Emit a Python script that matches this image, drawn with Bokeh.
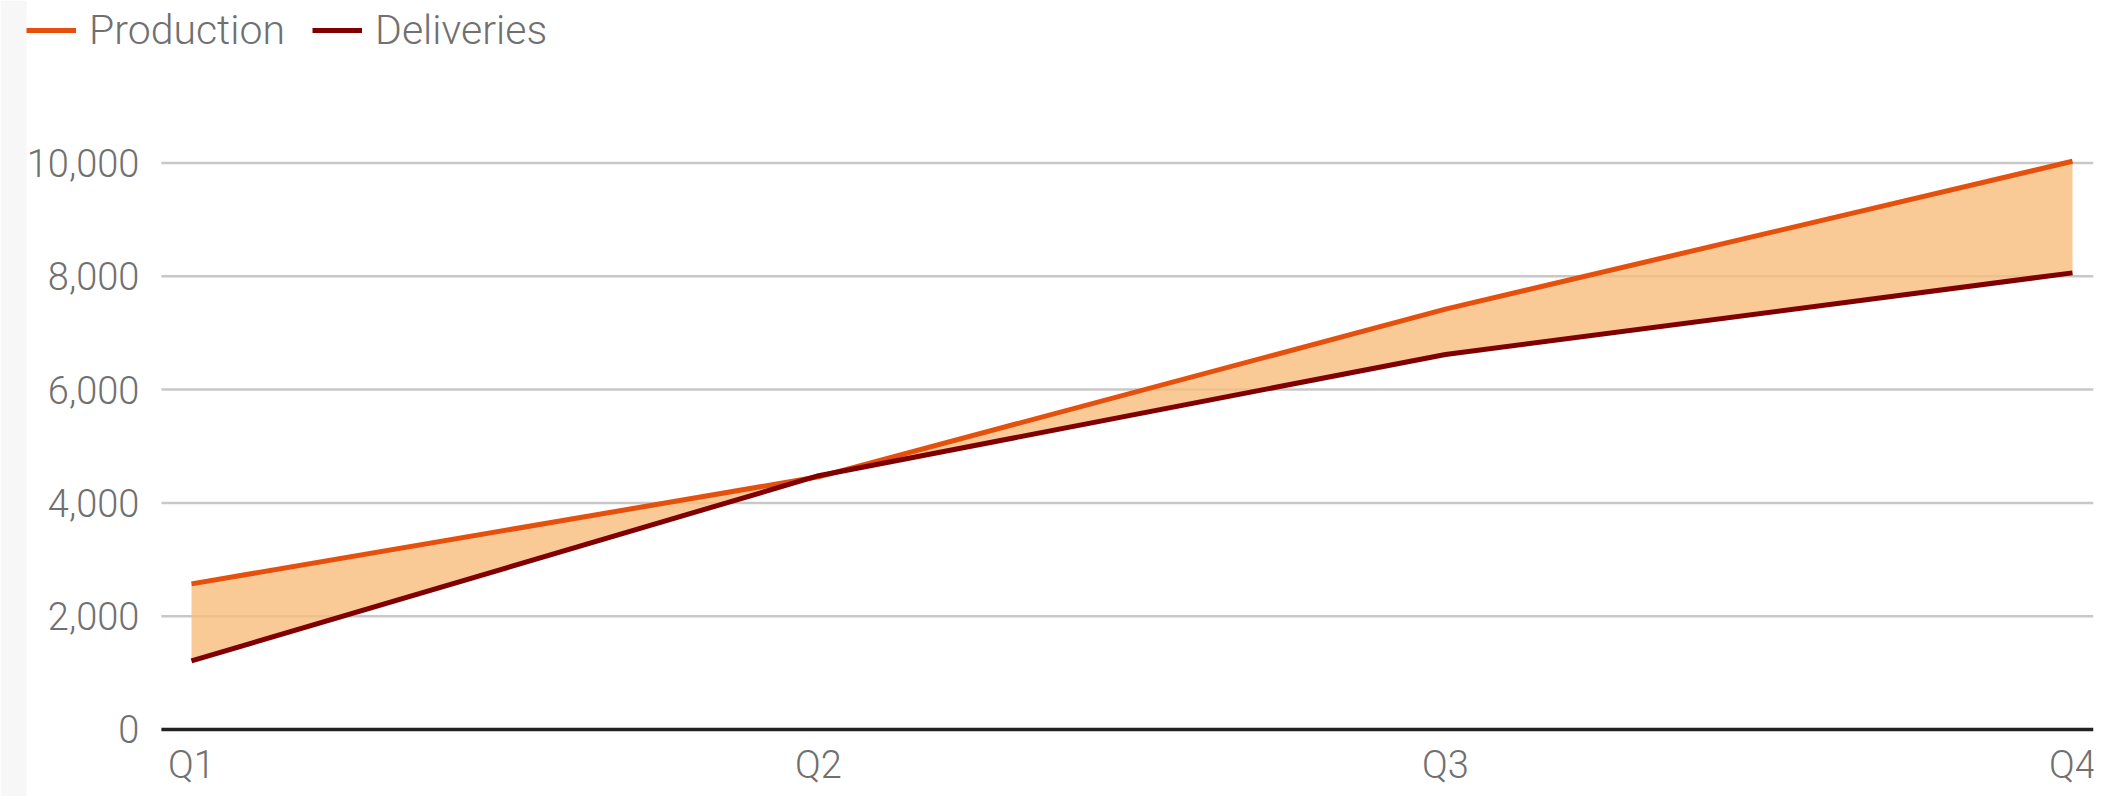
from bokeh.plotting import figure
from bokeh.models import Range1d, Legend, LegendItem, ColumnDataSource
from bokeh.core.properties import value
from bokeh.embed import file_html
from bokeh.resources import INLINE

# Quarterly figures
quarters = ["Q1", "Q2", "Q3", "Q4"]
production = [2570, 4460, 7420, 10030]
deliveries = [1210, 4480, 6620, 8060]
y_ticks = [0, 2000, 4000, 6000, 8000, 10000]

PROD_COLOR = "#E5500C"
DELIV_COLOR = "#800000"
BAND_COLOR = "#F8BC7C"
TEXT_COLOR = "#707070"
GRID_COLOR = "#c8c8c8"
FONT = "Roboto Light, Roboto"

# layout in x units (one unit per quarter); the plotting frame covers the
# whole canvas so the legend and labels can sit at its edges
X_START, X_END = -0.3046, 3.0335
GRID_LEFT = -0.048      # where the horizontal rules begin
LABEL_X = -0.083        # right edge of the value labels
STRIP_RIGHT = -0.263    # light band at the left edge
Y_START, Y_END = -1183, 12868
QUARTER_LABEL_Y = -620  # vertical centre of the quarter labels

x_pos = list(range(len(quarters)))
src = ColumnDataSource(dict(x=x_pos, prod=production, deliv=deliveries))

p = figure(width=2117, height=796, output_backend="svg", toolbar_location=None,
           x_range=Range1d(X_START, X_END), y_range=Range1d(Y_START, Y_END),
           min_border_left=0, min_border_right=24, min_border_top=0,
           min_border_bottom=0)
p.outline_line_color = None
p.background_fill_color = "white"
p.border_fill_color = "white"
p.axis.visible = False
p.grid.visible = False

p.quad(left=X_START, right=STRIP_RIGHT, bottom=Y_START, top=Y_END,
       fill_color="#f7f7f7", line_color=None)

# horizontal rules and value labels
rule_vals = y_ticks[1:]
p.segment(x0=[GRID_LEFT] * len(rule_vals), x1=[X_END] * len(rule_vals),
          y0=rule_vals, y1=rule_vals, line_color=GRID_COLOR, line_width=2.5)
p.text(x=[LABEL_X] * len(y_ticks), y=y_ticks,
       text=[f"{v:,}" for v in y_ticks], text_align="right",
       text_baseline="middle", text_font=value(FONT), text_font_size="38px",
       text_color=TEXT_COLOR)

# band between the two series
p.varea(x="x", y1="deliv", y2="prod", source=src, fill_color=BAND_COLOR,
        fill_alpha=0.8)
r_prod = p.line(x="x", y="prod", source=src, line_color=PROD_COLOR, line_width=5)
r_deliv = p.line(x="x", y="deliv", source=src, line_color=DELIV_COLOR, line_width=5)

# baseline at zero
p.segment(x0=[GRID_LEFT], x1=[X_END], y0=[0], y1=[0], line_color="#222222",
          line_width=3.5)

# quarter labels
p.text(x=x_pos, y=[QUARTER_LABEL_Y] * len(quarters), text=quarters,
       text_align="center", text_baseline="middle", text_font=value(FONT),
       text_font_size="38px", text_color=TEXT_COLOR)

legend = Legend(items=[LegendItem(label="Production", renderers=[r_prod]),
                       LegendItem(label="Deliveries", renderers=[r_deliv])],
                orientation="horizontal", location=(26, 742),
                glyph_width=50, glyph_height=20, label_standoff=13, spacing=27,
                padding=0, margin=0, border_line_color=None,
                background_fill_alpha=0,
                label_text_font=FONT, label_text_font_size="41px",
                label_text_color=TEXT_COLOR)
p.add_layout(legend)

open("out.html", "w").write(file_html(p, INLINE))
